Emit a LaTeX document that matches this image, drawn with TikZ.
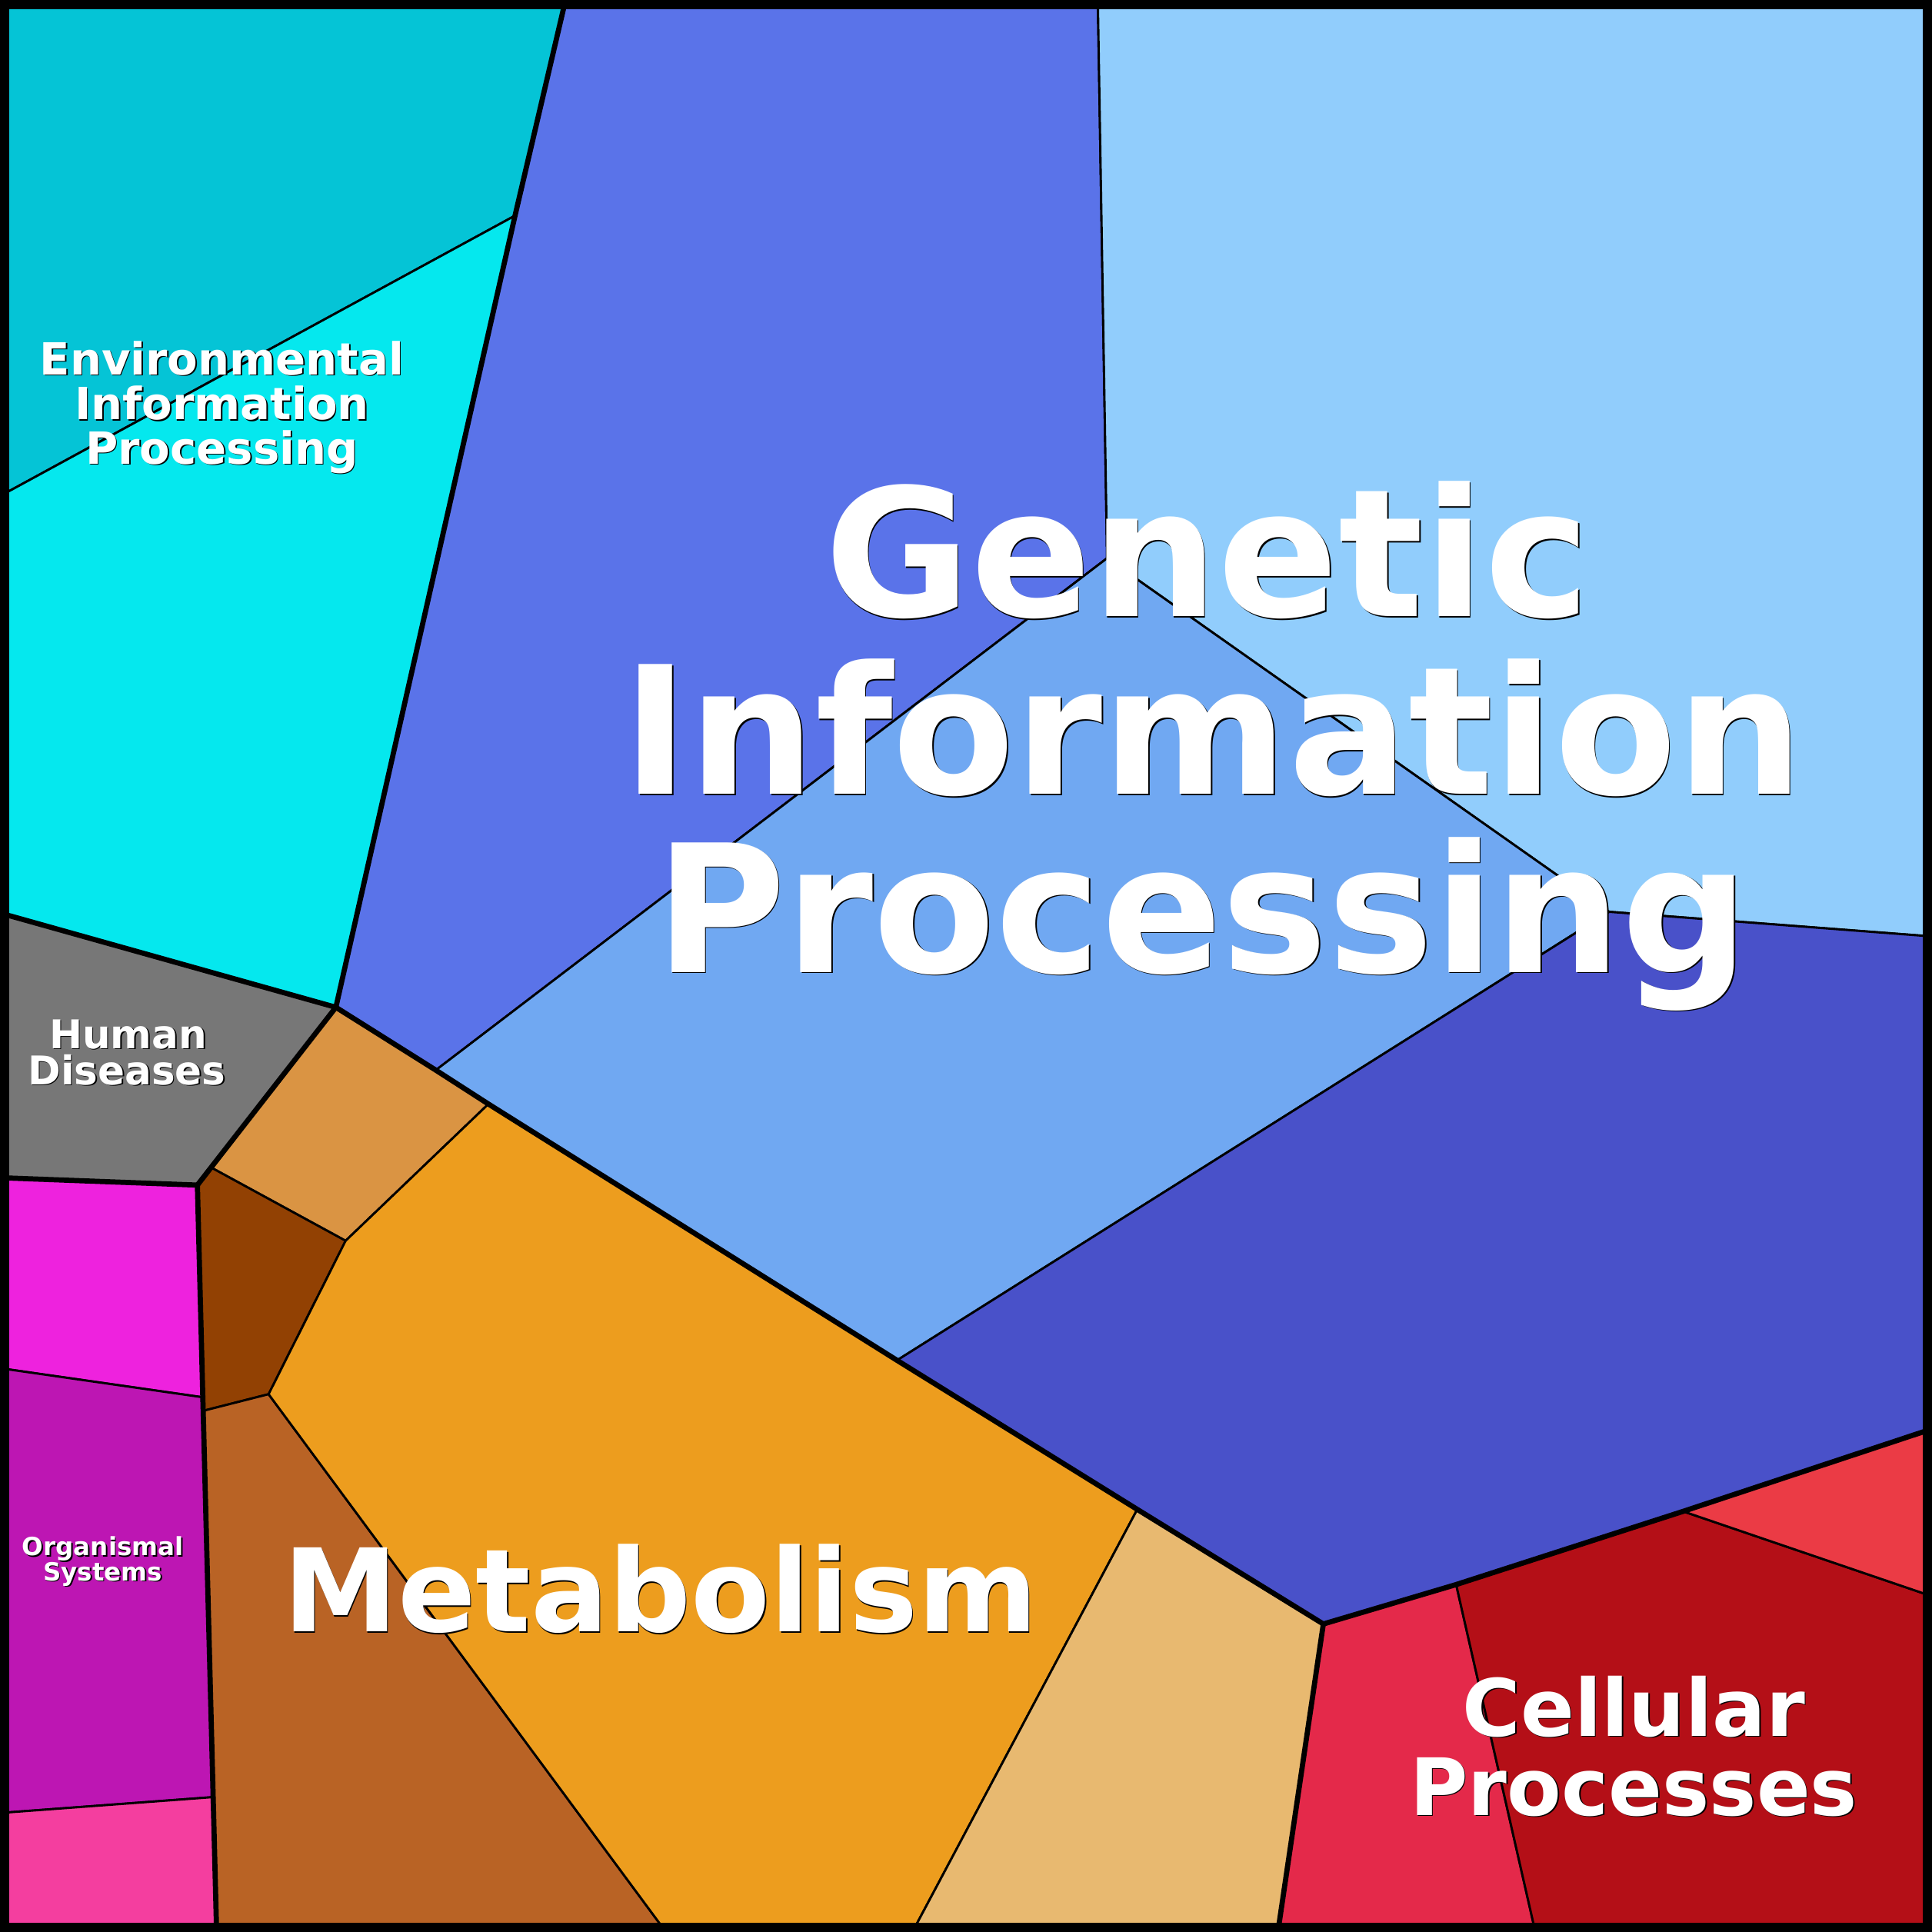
\documentclass[tikz,border=0pt]{standalone}
\usepackage{fontspec}
\setmainfont{DejaVu Sans}
\usepackage{tikz}

\definecolor{envtopc}{HTML}{05C4D6}
\definecolor{envbotc}{HTML}{05E8EE}
\definecolor{humanc}{HTML}{777777}
\definecolor{genblue}{HTML}{5A73E9}
\definecolor{gensky}{HTML}{91CDFC}
\definecolor{genmid}{HTML}{70A8F2}
\definecolor{gendeep}{HTML}{4951C9}
\definecolor{metlight}{HTML}{DA9443}
\definecolor{metdark}{HTML}{924103}
\definecolor{metbrown}{HTML}{B96325}
\definecolor{metorange}{HTML}{ED9D1E}
\definecolor{mettan}{HTML}{E8B970}
\definecolor{cellred}{HTML}{E4294A}
\definecolor{celldark}{HTML}{B40F17}
\definecolor{celllight}{HTML}{EB3B45}
\definecolor{orgmag}{HTML}{EE22DE}
\definecolor{orgpurple}{HTML}{BD16B3}
\definecolor{orgpink}{HTML}{F43E9F}

\newcommand{\shadowtxt}[1]{\makebox[0pt][l]{\hspace{0.1mm}\raisebox{-0.1mm}{\textcolor{black}{#1}}}#1}

\tikzset{
  cell/.style={draw=black,line width=0.18mm,line join=round},
  border/.style={draw=black,line width=0.42mm,line join=round,line cap=round},
  lbl/.style={text=white,inner sep=0pt,anchor=base},
  genlbl/.style={lbl,font=\fontsize{41.1pt}{41.1pt}\selectfont\bfseries},
  metlbl/.style={lbl,font=\fontsize{26.6pt}{26.6pt}\selectfont\bfseries},
  celllbl/.style={lbl,font=\fontsize{18.3pt}{18.3pt}\selectfont\bfseries},
  envlbl/.style={lbl,font=\fontsize{10.24pt}{10.24pt}\selectfont\bfseries},
  humlbl/.style={lbl,font=\fontsize{9.16pt}{9.16pt}\selectfont\bfseries},
  orglbl/.style={lbl,font=\fontsize{5.78pt}{5.78pt}\selectfont\bfseries}
}

\begin{document}
\begin{tikzpicture}[x=0.1mm,y=-0.1mm]
            \useasboundingbox (0,0) rectangle (1568,1568);
            % shared corners of the cells
            \coordinate (envtip) at (418,175);
            \coordinate (hub) at (272.6,817.5);
            \coordinate (humcut) at (171.3,947.5);
            \coordinate (humfoot) at (160.2,961.8);
            \coordinate (gencut) at (353.7,868.5);
            \coordinate (metfork) at (396.4,896);
            \coordinate (metmid) at (280.5,1007);
            \coordinate (metlow) at (218,1131.5);
            \coordinate (orgtop) at (164.6,1134);
            \coordinate (orgcut) at (164.9,1145);
            \coordinate (orgbot) at (173,1458.5);
            \coordinate (genjoin) at (898.5,453);
            \coordinate (genright) at (1306,740);
            \coordinate (genlow) at (728,1104);
            \coordinate (tanfork) at (923,1225);
            \coordinate (cellhub) at (1074,1318);
            \coordinate (cellsplit) at (1181.8,1286);
            \coordinate (cellfork) at (1366,1226.6);
            % environmental information processing
            \filldraw[cell,fill=envtopc] (0,0)--(459,0)--(envtip)--(0,402.6)--cycle;
            \filldraw[cell,fill=envbotc] (0,402.6)--(envtip)--(hub)--(0,741)--cycle;
            % human diseases
            \filldraw[cell,fill=humanc] (0,741)--(hub)--(humcut)--(humfoot)--(0,955.8)--cycle;
            % genetic information processing
            \filldraw[cell,fill=genblue] (459,0)--(891,0)--(genjoin)--(gencut)--(hub)--(envtip)--cycle;
            \filldraw[cell,fill=gensky] (891,0)--(1568,0)--(1568,760)--(genright)--(genjoin)--cycle;
            \filldraw[cell,fill=genmid] (genjoin)--(genright)--(genlow)--(metfork)--(gencut)--cycle;
            \filldraw[cell,fill=gendeep] (genright)--(1568,760)--(1568,1159.7)--(cellfork)--(cellsplit)--(cellhub)--(tanfork)--(genlow)--cycle;
            % metabolism
            \filldraw[cell,fill=metlight] (hub)--(gencut)--(metfork)--(metmid)--(humcut)--cycle;
            \filldraw[cell,fill=metdark] (humcut)--(metmid)--(metlow)--(orgcut)--(humfoot)--cycle;
            \filldraw[cell,fill=metbrown] (orgcut)--(metlow)--(540.5,1568)--(175.8,1568)--cycle;
            \filldraw[cell,fill=metorange] (metfork)--(genlow)--(tanfork)--(740.5,1568)--(540.5,1568)--(metlow)--(metmid)--cycle;
            \filldraw[cell,fill=mettan] (tanfork)--(cellhub)--(1037.1,1568)--(740.5,1568)--cycle;
            % cellular processes
            \filldraw[cell,fill=cellred] (cellhub)--(cellsplit)--(1246.1,1568)--(1037.1,1568)--cycle;
            \filldraw[cell,fill=celldark] (cellsplit)--(cellfork)--(1568,1295.5)--(1568,1568)--(1246.1,1568)--cycle;
            \filldraw[cell,fill=celllight] (cellfork)--(1568,1159.7)--(1568,1295.5)--cycle;
            % organismal systems
            \filldraw[cell,fill=orgmag] (0,955.8)--(humfoot)--(orgtop)--(0,1110.4)--cycle;
            \filldraw[cell,fill=orgpurple] (0,1110.4)--(orgtop)--(orgbot)--(0,1471.4)--cycle;
            \filldraw[cell,fill=orgpink] (0,1471.4)--(orgbot)--(175.8,1568)--(0,1568)--cycle;
            % borders between the categories
            \draw[border] (459,0)--(envtip)--(hub);
            \draw[border] (0,741)--(hub)--(humcut)--(humfoot)--(0,955.8);
            \draw[border] (humfoot)--(orgtop)--(orgcut)--(orgbot)--(175.8,1568);
            \draw[border] (hub)--(gencut)--(metfork)--(genlow)--(tanfork)--(cellhub)--(cellsplit)--(cellfork)--(1568,1159.7);
            \draw[border] (cellhub)--(1037.1,1568);
            \draw[line width=0.75mm] (3.75,3.75) rectangle (1564.25,1564.25);
            % labels
            \node[genlbl] (gen1) at (980,500.4) {\shadowtxt{Genetic}};
            \node[genlbl] (gen2) at (984.5,644.6) {\shadowtxt{Information}};
            \node[genlbl] (gen3) at (975.7,789) {\shadowtxt{Processing}};
            \node[metlbl] (met1) at (536,1324.4) {\shadowtxt{Metabolism}};
            \node[celllbl] (cell1) at (1326,1409) {\shadowtxt{Cellular}};
            \node[celllbl] (cell2) at (1326,1473.2) {\shadowtxt{Processes}};
            \node[envlbl] (env1) at (180,304.2) {\shadowtxt{Environmental}};
            \node[envlbl] (env2) at (180,340.6) {\shadowtxt{Information}};
            \node[envlbl] (env3) at (180,376.6) {\shadowtxt{Processing}};
            \node[humlbl] (hum1) at (104,851) {\shadowtxt{Human}};
            \node[humlbl] (hum2) at (103,880.3) {\shadowtxt{Diseases}};
            \node[orglbl] (org1) at (83.5,1262.6) {\shadowtxt{Organismal}};
            \node[orglbl] (org2) at (83.5,1282.8) {\shadowtxt{Systems}};
        \end{tikzpicture}
\end{document}
